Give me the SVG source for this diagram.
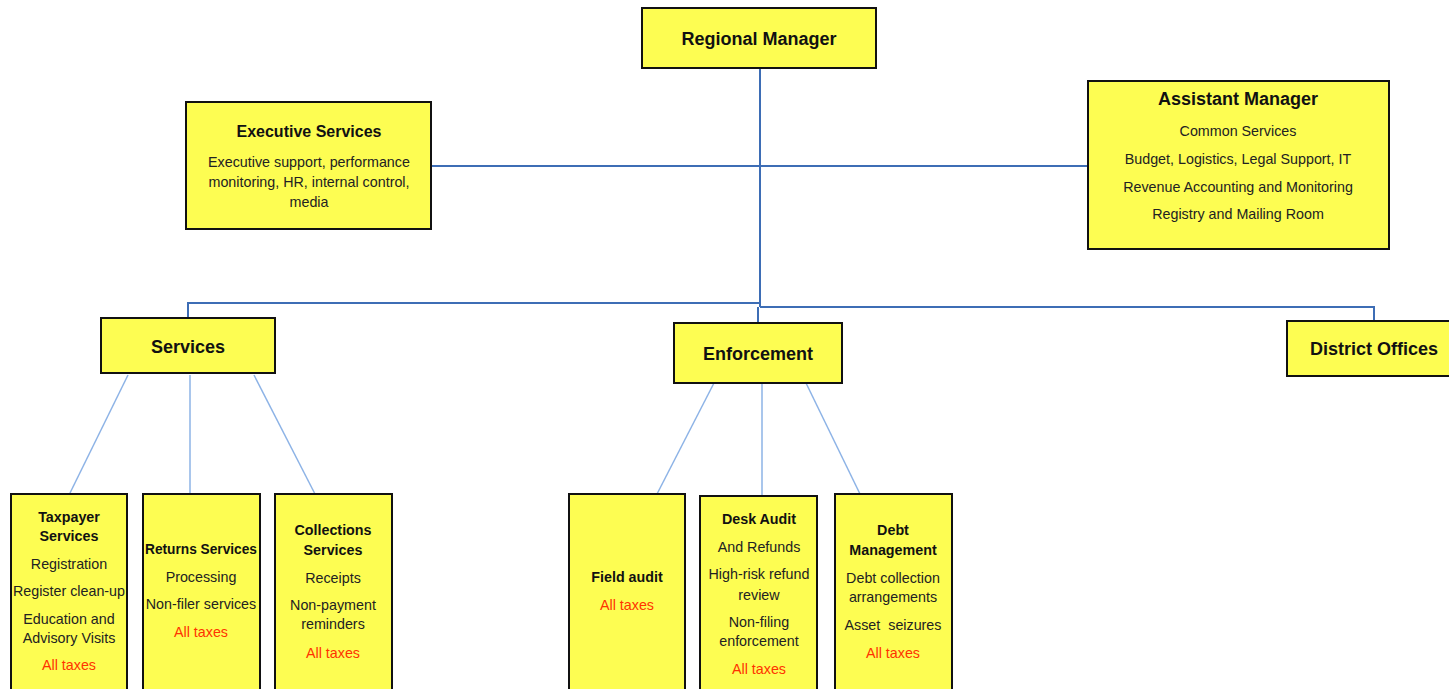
<svg xmlns="http://www.w3.org/2000/svg" width="1449" height="689" viewBox="0 0 1449 689">
<style>
.box{fill:#fdfd52;stroke:#111;stroke-width:2}
.t{font-family:"Liberation Sans",Arial,sans-serif;font-size:14.3px;fill:#222;text-anchor:middle}
.b{font-weight:bold;font-size:14.3px;fill:#111}
.h{font-weight:bold;font-size:18px;fill:#111}
.e{font-weight:bold;font-size:16px;fill:#111}
.r{fill:#ff3300}
.main{stroke:#3d6db5;stroke-width:2;fill:none}
.sub{stroke:#8db3e6;stroke-width:1.5;fill:none}
</style>
<rect width="1449" height="689" fill="#fff"/>
<g id="connectors">
<path class="main" d="M760,68 V307"/>
<path class="main" d="M431,166 H760"/>
<path class="main" d="M760,166 H1088" stroke="#7d9fd6"/>
<path class="main" d="M760,303 H188 V318"/>
<path class="main" d="M760,307 H1374 V321"/>
<path class="main" d="M758,307 V323"/>
<path class="sub" d="M128,375 L70,493"/>
<path class="sub" d="M190,375 V494"/>
<path class="sub" d="M254,375 L315,494"/>
<path class="sub" d="M714,383 L657,494"/>
<path class="sub" d="M762,383 V496"/>
<path class="sub" d="M806,383 L860,494"/>
</g>
<g id="regional-manager">
<rect class="box" x="642" y="8" width="234" height="60"/>
<text class="t h" x="759" y="45">Regional Manager</text>
</g>
<g id="executive-services">
<rect class="box" x="186" y="102" width="245" height="127"/>
<text class="t e" x="309" y="137">Executive Services</text>
<text class="t" x="309" y="167">Executive support, performance</text>
<text class="t" x="309" y="187">monitoring, HR, internal control,</text>
<text class="t" x="309" y="207">media</text>
</g>
<g id="assistant-manager">
<rect class="box" x="1088" y="81" width="301" height="168"/>
<text class="t h" x="1238" y="105">Assistant Manager</text>
<text class="t" x="1238" y="136">Common Services</text>
<text class="t" x="1238" y="164">Budget, Logistics, Legal Support, IT</text>
<text class="t" x="1238" y="192">Revenue Accounting and Monitoring</text>
<text class="t" x="1238" y="219">Registry and Mailing Room</text>
</g>
<g id="services">
<rect class="box" x="101" y="318" width="174" height="55"/>
<text class="t h" x="188" y="353">Services</text>
</g>
<g id="enforcement">
<rect class="box" x="674" y="323" width="168" height="60"/>
<text class="t h" x="758" y="360">Enforcement</text>
</g>
<g id="district-offices">
<rect class="box" x="1287" y="321" width="170" height="55"/>
<text class="t h" x="1374" y="355">District Offices</text>
</g>
<g id="taxpayer-services">
<rect class="box" x="11" y="494" width="116" height="200"/>
<text class="t b" x="69" y="522">Taxpayer</text>
<text class="t b" x="69" y="541">Services</text>
<text class="t" x="69" y="569">Registration</text>
<text class="t" x="69" y="596">Register clean-up</text>
<text class="t" x="69" y="624">Education and</text>
<text class="t" x="69" y="643">Advisory Visits</text>
<text class="t r" x="69" y="670">All taxes</text>
</g>
<g id="returns-services">
<rect class="box" x="143" y="494" width="117" height="200"/>
<text class="t b" x="201" y="554" textLength="112" lengthAdjust="spacingAndGlyphs">Returns Services</text>
<text class="t" x="201" y="582">Processing</text>
<text class="t" x="201" y="609">Non-filer services</text>
<text class="t r" x="201" y="637">All taxes</text>
</g>
<g id="collections-services">
<rect class="box" x="275" y="494" width="117" height="200"/>
<text class="t b" x="333" y="535">Collections</text>
<text class="t b" x="333" y="555">Services</text>
<text class="t" x="333" y="583">Receipts</text>
<text class="t" x="333" y="610">Non-payment</text>
<text class="t" x="333" y="629">reminders</text>
<text class="t r" x="333" y="658">All taxes</text>
</g>
<g id="field-audit">
<rect class="box" x="569" y="494" width="116" height="200"/>
<text class="t b" x="627" y="582">Field audit</text>
<text class="t r" x="627" y="610">All taxes</text>
</g>
<g id="desk-audit">
<rect class="box" x="700" y="496" width="117" height="200"/>
<text class="t b" x="759" y="524">Desk Audit</text>
<text class="t" x="759" y="552">And Refunds</text>
<text class="t" x="759" y="579">High-risk refund</text>
<text class="t" x="759" y="600">review</text>
<text class="t" x="759" y="627">Non-filing</text>
<text class="t" x="759" y="646">enforcement</text>
<text class="t r" x="759" y="674">All taxes</text>
</g>
<g id="debt-management">
<rect class="box" x="835" y="494" width="117" height="200"/>
<text class="t b" x="893" y="535">Debt</text>
<text class="t b" x="893" y="555">Management</text>
<text class="t" x="893" y="583">Debt collection</text>
<text class="t" x="893" y="602">arrangements</text>
<text class="t" x="893" y="630" style="white-space:pre">Asset  seizures</text>
<text class="t r" x="893" y="658">All taxes</text>
</g>
</svg>
